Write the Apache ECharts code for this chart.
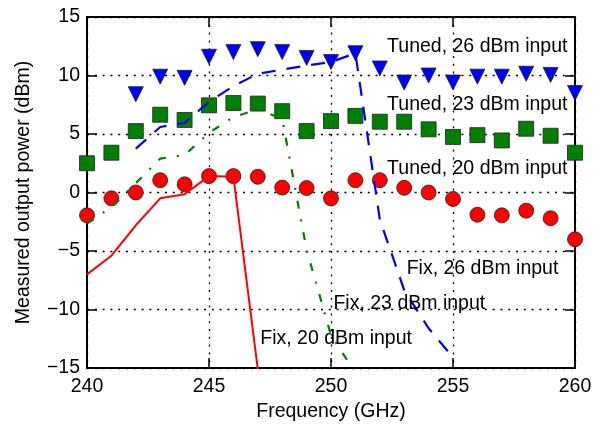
<!DOCTYPE html>
<html>
<head>
<meta charset="utf-8">
<script src="https://cdn.jsdelivr.net/npm/echarts@6/dist/echarts.min.js"></script>
<style>
    html, body { margin: 0; padding: 0; background: #fff; }
    #chart { width: 603px; height: 427px; }
</style>
</head>
<body>
<div id="chart"></div>
<script>
    // frequency points (GHz)
    const freq = [240, 241, 242, 243, 244, 245, 246, 247, 248, 249, 250,
                  251, 252, 253, 254, 255, 256, 257, 258, 259, 260];

    // tuned measurements (dBm)
    const tuned26 = [null, null, 8.4, 9.9, 9.8, 11.6, 12.0, 12.25, 12.0, 11.5, 11.15,
                     11.9, 10.6, 9.4, 10.0, 9.4, 9.9, 9.9, 10.15, 10.05, 8.5];
    const tuned23 = [2.5, 3.4, 5.25, 6.65, 6.2, 7.45, 7.65, 7.6, 6.95, 5.25, 6.1,
                     6.55, 6.05, 6.05, 5.4, 4.75, 4.9, 4.45, 5.45, 4.85, 3.4];
    const tuned20 = [-1.95, -0.5, 0.0, 1.05, 0.7, 1.4, 1.4, 1.35, 0.42, 0.38, -0.5,
                     1.05, 1.05, 0.4, 0.0, -0.55, -1.9, -1.95, -1.55, -2.2, -4.0];

    // fixed tuning (dBm)
    const fixFreq26 = [242, 243, 244, 245, 246, 247, 248, 249, 250, 251, 252, 253, 254, 255];
    const fix26 = [3.75, 5.6, 5.95, 7.75, 9.1, 10.15, 10.5, 10.85, 11.15, 11.9, -2.3, -8.35, -11.6, -14.1];
    const fixFreq23 = [240, 241, 242, 243, 244, 245, 246, 247, 248, 249, 250, 251];
    const fix23 = [-2.65, -1.25, 0.8, 2.9, 3.2, 5.1, 6.45, 7.1, 6.3, -4.9, -12.2, -15.4];
    const fixFreq20 = [240, 241, 242, 243, 244, 245, 246, 247];
    const fix20 = [-7.0, -5.4, -2.8, -0.5, -0.15, 1.4, 1.35, -15.1];

    // annotations
    const noteText = ['Tuned, 26 dBm input', 'Tuned, 23 dBm input', 'Tuned, 20 dBm input',
                      'Fix, 26 dBm input', 'Fix, 23 dBm input', 'Fix, 20 dBm input'];
    const noteX = [252.3, 252.3, 252.3, 253.1, 250.1, 247.1];
    const noteY = [12.5, 7.5, 2.0, -6.5, -9.5, -12.5];

    const font = '"Liberation Sans", Arial, Helvetica, sans-serif';
    const fs = 19.5;
    const minus = v => String(v).replace('-', '\u2212');

    const zip = (xs, ys) => xs.map((x, i) => [x, ys[i]]);

    const frame = { show: true, onZero: false, lineStyle: { color: '#000', width: 2 } };
    const tick = { show: true, inside: true, length: 10, lineStyle: { color: '#000', width: 1.5 } };
    const grid = { show: true, lineStyle: { color: '#000', width: 1.3, type: [2, 5.8] } };

    const markerBase = {
        type: 'scatter',
        symbolSize: 15,
        itemStyle: { borderColor: '#222', borderWidth: 0.8, opacity: 1 },
        z: 2
    };

    let option = {
        animation: false,
        backgroundColor: '#fff',
        textStyle: { fontFamily: font },
        grid: { left: 87, right: 28, top: 17, bottom: 59, containLabel: false },
        xAxis: [
            {
                type: 'value', min: 240, max: 260, interval: 5,
                name: 'Frequency (GHz)', nameLocation: 'middle', nameGap: 34,
                nameTextStyle: { fontSize: fs, color: '#000', fontFamily: font },
                axisLine: frame, axisTick: tick, splitLine: grid,
                axisLabel: { fontSize: fs, color: '#000', margin: 9, fontFamily: font }
            },
            {
                type: 'value', min: 240, max: 260, interval: 5, position: 'top',
                axisLine: frame, axisTick: tick, splitLine: { show: false },
                axisLabel: { show: false }
            }
        ],
        yAxis: [
            {
                type: 'value', min: -15, max: 15, interval: 5,
                name: 'Measured output power (dBm)', nameLocation: 'middle', nameGap: 53,
                nameTextStyle: { fontSize: fs, color: '#000', fontFamily: font },
                axisLine: frame, axisTick: tick, splitLine: grid,
                axisLabel: { fontSize: fs, color: '#000', margin: 7, fontFamily: font, formatter: minus }
            },
            {
                type: 'value', min: -15, max: 15, interval: 5, position: 'right',
                axisLine: frame, axisTick: tick, splitLine: { show: false },
                axisLabel: { show: false }
            }
        ],
        series: [
            {
                ...markerBase, name: 'Tuned 26', symbol: 'triangle', symbolRotate: 180,
                itemStyle: { ...markerBase.itemStyle, color: '#0000ff' },
                data: zip(freq, tuned26).filter(d => d[1] !== null)
            },
            {
                ...markerBase, name: 'Tuned 23', symbol: 'rect',
                itemStyle: { ...markerBase.itemStyle, color: '#008000' },
                data: zip(freq, tuned23)
            },
            {
                ...markerBase, name: 'Tuned 20', symbol: 'circle',
                itemStyle: { ...markerBase.itemStyle, color: '#ff0000' },
                data: zip(freq, tuned20)
            },
            {
                type: 'line', name: 'Fix 26', showSymbol: false, symbol: 'none', clip: true,
                lineStyle: { color: '#0000ff', width: 2.2, type: [14, 11] },
                data: zip(fixFreq26, fix26), z: 3
            },
            {
                type: 'line', name: 'Fix 23', showSymbol: false, symbol: 'none', clip: true,
                lineStyle: { color: '#008000', width: 2.2, type: [8, 11, 2, 11] },
                data: zip(fixFreq23, fix23), z: 3
            },
            {
                type: 'line', name: 'Fix 20', showSymbol: false, symbol: 'none', clip: true,
                lineStyle: { color: '#ff0000', width: 2 },
                data: zip(fixFreq20, fix20), z: 3
            },
            {
                // text notes placed in data coordinates
                type: 'scatter', name: 'notes', symbolSize: 0, silent: true, z: 5,
                itemStyle: { opacity: 1 },
                data: noteText.map((t, i) => ({ value: [noteX[i], noteY[i]], name: t })),
                label: {
                    show: true, position: 'right', distance: 0, opacity: 1,
                    formatter: p => p.name,
                    fontSize: fs, color: '#000', fontFamily: font
                }
            }
        ]
    };

    const chart = echarts.init(document.getElementById('chart'));
    chart.setOption(option);
</script>
</body>
</html>
